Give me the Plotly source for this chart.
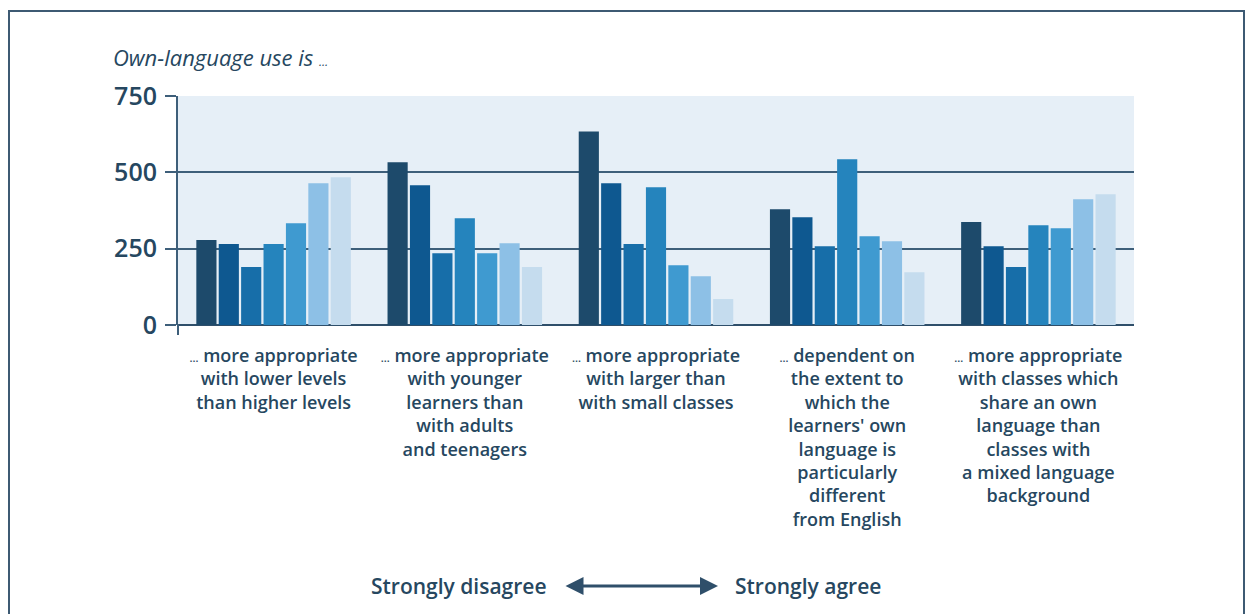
import plotly.graph_objects as go

categories = ["c1", "c2", "c3", "c4", "c5"]
category_labels = [
    "<span style='font-size:11px'>…</span> more appropriate<br>with lower levels<br>than higher levels",
    "<span style='font-size:11px'>…</span> more appropriate<br>with younger<br>learners than<br>with adults<br>and teenagers",
    "<span style='font-size:11px'>…</span> more appropriate<br>with larger than<br>with small classes",
    "<span style='font-size:11px'>…</span> dependent on<br>the extent to<br>which the<br>learners' own<br>language is<br>particularly<br>different<br>from English",
    "<span style='font-size:11px'>…</span> more appropriate<br>with classes which<br>share an own<br>language than<br>classes with<br>a mixed language<br>background",
]
series_names = ["1 (strongly disagree)", "2", "3", "4", "5", "6", "7 (strongly agree)"]
values = [
    [278, 533, 634, 379, 337],
    [265, 458, 464, 353, 258],
    [190, 235, 265, 258, 190],
    [265, 350, 451, 543, 327],
    [333, 235, 196, 291, 317],
    [464, 268, 160, 274, 412],
    [484, 190, 85, 173, 428],
]
y_ticks = [0, 250, 500, 750]
colors = ["#1d4a6b", "#0e5890", "#176ea9", "#2584bd", "#3f9ad0", "#8dc0e6", "#c5dcee"]

TXT = "#264760"
FONT = "Open Sans"
WT = 600

fig = go.Figure()
for name, vals, col in zip(series_names, values, colors):
    fig.add_trace(go.Bar(x=categories, y=vals, name=name, marker_color=col,
                         marker_line_width=0, showlegend=False))

W, H = 1245, 614
L, R, T, B = 178, 111, 96, 289
pw, ph = W - L - R, H - T - B

def px(x):
    return (x - L) / pw

def py(y):
    return (H - B - y) / ph

fig.update_layout(
    width=W, height=H,
    margin=dict(l=L, r=R, t=T, b=B, pad=0),
    paper_bgcolor="white",
    plot_bgcolor="#e6eff7",
    barmode="group",
    bargap=0.18,
    bargroupgap=0.1,
    font=dict(family=FONT, color=TXT, weight=WT),
    xaxis=dict(
        tickmode="array", tickvals=categories, ticktext=category_labels,
        tickfont=dict(size=18, color=TXT, weight=WT), ticks="", showline=False,
        showgrid=False, ticklabelstandoff=18,
    ),
    yaxis=dict(
        range=[0, 750], tickvals=y_ticks, tickfont=dict(size=25, color=TXT, weight=WT),
        ticks="outside", ticklen=11, tickwidth=2, tickcolor="#3e5f7a",
        showgrid=True, gridcolor="#3e5f7a", gridwidth=2,
        zeroline=True, zerolinecolor="#2f4f6a", zerolinewidth=2,
        showline=True, linecolor="#3e5f7a", linewidth=2,
        ticklabelstandoff=3,
    ),
    shapes=[
        dict(type="rect", xref="paper", yref="paper",
             x0=px(9), x1=px(1244), y0=py(640), y1=py(11),
             line=dict(color="#3d5a73", width=2), fillcolor="rgba(0,0,0,0)", layer="below"),
        dict(type="line", xref="paper", yref="paper",
             x0=px(178), x1=px(178), y0=py(335), y1=py(324),
             line=dict(color="#3e5f7a", width=2)),
    ],
    annotations=[
        dict(text="<i>Own-language use is <span style='font-size:12px'>…</span></i>",
             xref="paper", yref="paper", x=px(111), y=py(57), xanchor="left", yanchor="middle",
             showarrow=False, font=dict(size=22, color=TXT, family=FONT, weight=500)),
        dict(text="Strongly disagree", xref="paper", yref="paper", x=px(549), y=py(586),
             xanchor="right", yanchor="middle", showarrow=False,
             font=dict(size=21, color=TXT, family=FONT, weight=WT)),
        dict(text="Strongly agree", xref="paper", yref="paper", x=px(733), y=py(586),
             xanchor="left", yanchor="middle", showarrow=False,
             font=dict(size=21, color=TXT, family=FONT, weight=WT)),
        dict(text="", xref="paper", yref="paper", x=px(718), y=py(586),
             ax=-154, ay=0, axref="pixel", ayref="pixel", showarrow=True,
             arrowhead=2, startarrowhead=2, arrowside="end+start", arrowsize=1.2,
             startarrowsize=1.2, arrowwidth=3, arrowcolor="#2f4f6a"),
    ],
)

fig.write_html("out.html")
